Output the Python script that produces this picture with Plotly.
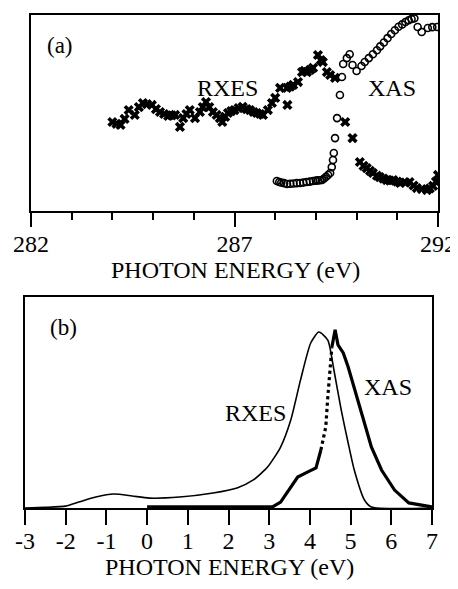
import plotly.graph_objects as go

# ---------------- Panel (a): measured spectra ----------------
rxes_a_energy = [284.0, 284.1, 284.2, 284.3, 284.4, 284.55, 284.65, 284.75, 284.85, 284.97,
                 285.07, 285.17, 285.27, 285.37, 285.46, 285.54, 285.66, 285.74, 285.82, 285.9,
                 286.03, 286.15, 286.22, 286.3, 286.38, 286.47, 286.56, 286.64, 286.7, 286.77,
                 286.84, 286.92, 287.0, 287.1, 287.2, 287.3, 287.38, 287.47, 287.55, 287.63,
                 287.7, 287.82, 287.92, 288.0, 288.12, 288.3, 288.29, 288.37, 288.44, 288.56,
                 288.66, 288.72, 288.78, 288.86, 288.93, 289.05, 289.12, 289.17, 289.27, 289.35,
                 289.47, 289.72, 289.9, 290.08, 290.17, 290.25, 290.33, 290.4, 290.5, 290.57,
                 290.66, 290.74, 290.82, 290.9, 291.0, 291.07, 291.2, 291.3, 291.4, 291.48,
                 291.6, 291.73, 291.8, 291.88, 291.95, 292.0]
rxes_a_intensity = [45.4, 44.5, 43.9, 47.0, 51.5, 49.0, 53.0, 55.1, 54.5, 54.1,
                    52.0, 50.5, 49.5, 48.5, 48.8, 49.0, 42.9, 47.4, 49.5, 51.5,
                    47.4, 50.5, 53.0, 55.6, 53.0, 50.5, 49.0, 47.4, 45.4, 48.0,
                    50.0, 51.0, 51.5, 52.5, 53.1, 52.0, 51.5, 50.5, 50.0, 49.5,
                    49.0, 51.5, 55.1, 57.7, 62.8, 54.1, 62.8, 63.5, 64.3, 65.8,
                    70.9, 71.5, 70.9, 72.0, 73.0, 79.6, 77.0, 76.0, 70.9, 69.4,
                    67.9, 45.4, 37.2, 25.0, 23.0, 21.9, 20.5, 19.4, 18.0, 17.3,
                    16.5, 15.8, 15.5, 15.8, 15.0, 14.3, 14.5, 14.8, 13.0, 11.7,
                    11.2, 10.7, 11.5, 12.8, 15.0, 18.4]

xas_a_energy = [288.04, 288.1, 288.15, 288.22, 288.29, 288.37, 288.45, 288.53, 288.61, 288.69,
                288.77, 288.85, 288.93, 289.0, 289.05, 289.1, 289.15, 289.2, 289.25, 289.3,
                289.35, 289.39, 289.42, 289.44, 289.47, 289.52, 289.59, 289.64, 289.67, 289.76,
                289.83, 289.9, 290.0, 290.12, 290.2, 290.3, 290.4, 290.5, 290.58, 290.67,
                290.76, 290.85, 290.94, 291.03, 291.12, 291.2, 291.28, 291.35, 291.42, 291.5,
                291.6, 291.75, 291.86, 291.98]
xas_a_intensity = [15.3, 14.8, 14.5, 14.2, 13.8, 13.9, 14.0, 14.2, 14.3, 14.5,
                   14.8, 15.0, 15.3, 15.5, 15.6, 15.7, 15.8, 16.6, 17.5, 18.4,
                   19.4, 22.4, 26.0, 29.6, 37.2, 47.4, 59.2, 68.4, 75.0, 78.0,
                   80.0, 74.5, 71.4, 74.0, 76.0, 78.0, 80.0, 82.0, 84.0, 86.0,
                   88.2, 90.3, 92.2, 94.0, 95.2, 96.4, 97.3, 98.0, 98.3, 93.9,
                   91.3, 93.4, 93.8, 93.9]

# ---------------- Panel (b): calculated spectra ----------------
rxes_b_energy = [-3.0, -2.5, -2.0, -1.68, -1.26, -0.82, -0.37, 0.05, 0.8, 1.62,
                 2.21, 2.61, 2.96, 3.28, 3.53, 3.77, 4.02, 4.22, 4.44, 4.59,
                 4.77, 4.94, 5.09, 5.34, 5.51, 7.0]
rxes_b_intensity = [0.0, 0.3, 0.9, 2.8, 5.2, 6.6, 5.7, 4.7, 5.2, 7.1,
                    9.5, 13.3, 19.4, 28.9, 41.7, 60.7, 78.2, 83.4, 79.6, 65.4,
                    46.4, 30.8, 18.0, 3.8, 0.5, 0.0]

xas_b_energy = [0.0, 1.0, 2.0, 3.08, 3.28, 3.53, 3.70, 3.95, 4.15, 4.27,
                4.39, 4.44, 4.49, 4.54, 4.62, 4.69, 4.82, 4.94, 5.06, 5.19,
                5.34, 5.51, 5.76, 6.08, 6.43, 7.0]
xas_b_intensity = [0.5, 0.5, 0.5, 0.5, 2.8, 9.9, 14.7, 17.1, 19.0, 27.5,
                   38.4, 52.6, 66.8, 76.3, 84.4, 77.3, 73.5, 66.8, 59.2, 49.8,
                   40.3, 28.9, 18.0, 8.5, 2.4, 0.5]
# index range of the dotted (steep) section of the XAS curve
xas_b_dot_start, xas_b_dot_end = 9, 13

axis_title = "PHOTON ENERGY (eV)"
ticks_a = [282, 287, 292]
ticks_b = [-3, -2, -1, 0, 1, 2, 3, 4, 5, 6, 7]

FONT = "Liberation Serif"
OFF = 8                      # default page body margin
W, H = 458 - OFF, 589 - OFF

fig = go.Figure()

fig.add_trace(go.Scatter(x=rxes_a_energy, y=rxes_a_intensity, mode="markers",
                         marker=dict(symbol="x", size=9, color="black",
                                     line=dict(width=0)),
                         xaxis="x", yaxis="y", showlegend=False))
fig.add_trace(go.Scatter(x=xas_a_energy, y=xas_a_intensity, mode="markers",
                         marker=dict(symbol="circle-open", size=7, color="black",
                                     line=dict(width=1.6, color="black")),
                         xaxis="x", yaxis="y", showlegend=False))

fig.add_trace(go.Scatter(x=rxes_b_energy, y=rxes_b_intensity, mode="lines",
                         line=dict(color="black", width=1.6, shape="spline", smoothing=0.6),
                         xaxis="x2", yaxis="y2", showlegend=False))
s, e = xas_b_dot_start, xas_b_dot_end
fig.add_trace(go.Scatter(x=xas_b_energy[:s + 1], y=xas_b_intensity[:s + 1], mode="lines",
                         line=dict(color="black", width=3.2),
                         xaxis="x2", yaxis="y2", showlegend=False))
fig.add_trace(go.Scatter(x=xas_b_energy[s:e + 1], y=xas_b_intensity[s:e + 1], mode="lines",
                         line=dict(color="black", width=3.2, dash="dot"),
                         xaxis="x2", yaxis="y2", showlegend=False))
fig.add_trace(go.Scatter(x=xas_b_energy[e:], y=xas_b_intensity[e:], mode="lines",
                         line=dict(color="black", width=3.2),
                         xaxis="x2", yaxis="y2", showlegend=False))


def px(x):
    return (x - OFF) / W


def py(y):
    return 1 - (y - OFF) / H


common_x = dict(showline=True, mirror=True, linecolor="black", linewidth=2,
                showgrid=False, zeroline=False, ticks="outside", tickcolor="black",
                tickwidth=1.5, tickfont=dict(family=FONT, size=24, color="black"),
                automargin=False)
common_y = dict(showline=True, mirror=True, linecolor="black", linewidth=2,
                showgrid=False, zeroline=False, showticklabels=False, ticks="",
                automargin=False, range=[0, 100])

fig.update_layout(
    width=W, height=H,
    margin=dict(l=0, r=0, t=0, b=0, autoexpand=False),
    paper_bgcolor="white", plot_bgcolor="white",
    xaxis=dict(domain=[px(31), px(438)], range=[282, 292], anchor="y",
               tickmode="array", tickvals=ticks_a, ticktext=[str(v) for v in ticks_a],
               ticklen=14, ticklabelstandoff=-4,
               minor=dict(dtick=1, tick0=282, ticks="outside", ticklen=7,
                          tickwidth=1.5, tickcolor="black"),
               **common_x),
    yaxis=dict(domain=[py(211), py(15)], anchor="x", **common_y),
    xaxis2=dict(domain=[px(25), px(432)], range=[-3, 7], anchor="y2",
                tickmode="array", tickvals=ticks_b, ticktext=[str(v) for v in ticks_b],
                ticklen=15, ticklabelstandoff=-5, **common_x),
    yaxis2=dict(domain=[py(508), py(297)], anchor="x2", **common_y),
)

ann = [("(a)", 60, 45, 23), ("RXES", 227, 88, 24), ("XAS", 392, 88, 24),
       ("(b)", 63, 327, 23), ("RXES", 255, 413, 24), ("XAS", 388, 387, 24),
       (axis_title, 235, 270, 24), (axis_title, 229, 567, 24)]
for t, x, y, sz in ann:
    fig.add_annotation(text=t, x=px(x), y=py(y), xref="paper", yref="paper",
                       xanchor="center", yanchor="middle", showarrow=False,
                       font=dict(family=FONT, size=sz, color="black"))

fig.write_html("out.html")
